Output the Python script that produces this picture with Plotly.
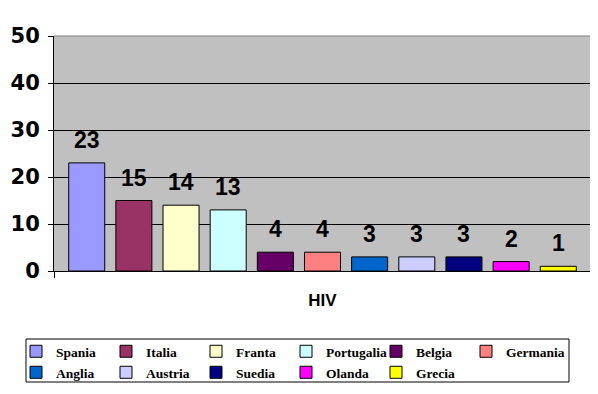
import plotly.graph_objects as go

countries = ["Spania", "Italia", "Franta", "Portugalia", "Belgia", "Germania",
             "Anglia", "Austria", "Suedia", "Olanda", "Grecia"]
values = [23, 15, 14, 13, 4, 4, 3, 3, 3, 2, 1]
colors = ["#9999FF", "#993366", "#FFFFCC", "#CCFFFF", "#660066", "#FF8080",
          "#0066CC", "#CCCCFF", "#000080", "#FF00FF", "#FFFF00"]
category = "HIV"
y_ticks = [0, 10, 20, 30, 40, 50]

# the page body has an 8px margin, so the figure is drawn 8px in from the corner
W, H = 590, 386
L, T, R, B = 46, 28, 7, 123
COLS, PITCH = 6, 90          # legend grid: 6 columns, 90px apart
LEG_X0, ROW_TOPS = 8, [328, 349]

legend_font = dict(family="Liberation Serif", size=13.5, color="black", weight="bold")


def legend_for(i):
    row, col = divmod(i, COLS)
    if row == 0 and col == COLS - 1:
        return "legend3"
    return "legend" if row == 0 else "legend2"


n = len(countries)
pad = 0.194
fig = go.Figure()
for i, (c, v, col) in enumerate(zip(countries, values, colors)):
    fig.add_trace(go.Bar(
        x=[i], y=[v], name=c, width=0.764,
        marker=dict(color=col, line=dict(color="black", width=1)),
        hoverinfo="name+y", legend=legend_for(i),
    ))
    fig.add_annotation(
        x=i, y=v, text=str(v), showarrow=False, yanchor="bottom", yshift=8,
        font=dict(family="Arial", size=23, color="black", weight="bold"),
    )


def leg(x_px, y_px):
    return dict(
        orientation="h", xref="container", yref="container",
        x=x_px / W, y=1 - y_px / H, xanchor="left", yanchor="top",
        borderwidth=0, bgcolor="rgba(0,0,0,0)",
        entrywidth=PITCH - 45, entrywidthmode="pixels",
        font=legend_font, itemwidth=30, tracegroupgap=0,
    )


fig.update_layout(
    width=W, height=H,
    margin=dict(l=L, r=R, t=T, b=B, autoexpand=False),
    paper_bgcolor="white", plot_bgcolor="#C0C0C0",
    barmode="overlay",
    showlegend=True,
    legend=leg(LEG_X0, ROW_TOPS[0]),
    legend2=leg(LEG_X0, ROW_TOPS[1]),
    legend3=dict(leg(LEG_X0 + (COLS - 1) * PITCH, ROW_TOPS[0]), entrywidth=None),
    font=dict(family="Arial", color="black"),
)
fig.update_xaxes(
    range=[-0.5 - pad, n - 0.5 + pad],
    tickvals=[(n - 1) / 2], ticktext=[category], ticks="",
    tickfont=dict(family="Arial", size=17, color="black", weight="bold"),
    ticklabelstandoff=14,
    showline=True, linecolor="black", linewidth=1,
    showgrid=False, zeroline=False, fixedrange=True,
    minor=dict(tickvals=[-0.5 - pad, n - 0.5 + pad], ticks="outside",
               ticklen=6, tickcolor="black", showgrid=False),
)
fig.update_yaxes(
    range=[0, 50], tickvals=y_ticks,
    ticks="outside", ticklen=5, tickcolor="black",
    tickfont=dict(family="DejaVu Sans", size=21, color="black", weight="bold"),
    ticklabelstandoff=4,
    showline=True, linecolor="black", linewidth=1,
    showgrid=True, gridcolor="black", gridwidth=1,
    zeroline=False, fixedrange=True,
)
fig.add_shape(type="line", xref="paper", yref="paper", x0=0, x1=1, y0=1, y1=1,
              line=dict(color="#808080", width=1), layer="above")
fig.add_shape(type="line", xref="paper", yref="paper", x0=1, x1=1, y0=0, y1=1,
              line=dict(color="#808080", width=1), layer="above")
# legend frame (figure-pixel box 18..561 x 331..374 expressed in paper units)
pw, ph = W - L - R, H - T - B
fig.add_shape(type="rect", xref="paper", yref="paper",
              x0=(18 - L) / pw, x1=(561 - L) / pw,
              y0=(H - B - 374) / ph, y1=(H - B - 331) / ph,
              line=dict(color="black", width=1), fillcolor="rgba(0,0,0,0)",
              layer="above")

fig.write_html("out.html")
